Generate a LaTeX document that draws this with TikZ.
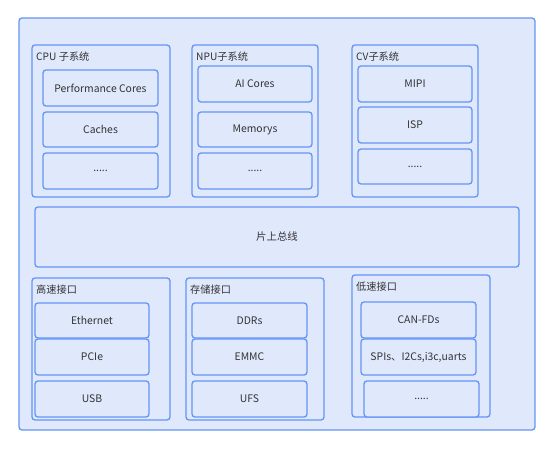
\documentclass[tikz,border=0pt]{standalone}
\usepackage{fontspec}
\setmainfont{Noto Sans CJK SC}
\usepackage{xcolor}
\definecolor{colFill}{HTML}{E0E8FC}
\definecolor{colLine}{HTML}{6495F5}
\definecolor{colText}{HTML}{333333}
\usetikzlibrary{positioning}

\begin{document}
\begin{tikzpicture}[x=1pt, y=-1pt,
		box/.style={draw=colLine, fill=colFill, line width=1.3pt, rounded corners=3pt, inner sep=0pt},
		item/.style={box, font=\fontsize{10.4}{12}\selectfont, text=colText},
		title/.style={anchor=west, inner sep=0pt, font=\fontsize{10.2}{12}\selectfont, text=colText}]
	\useasboundingbox (0,0) rectangle (554,449);
	\node[box, minimum width=516, minimum height=412] (soc) at (277,224) {};
	% subsystems
	\node[box, minimum width=138, minimum height=152] (cpu) at (101,121) {};
	\node[title] (cpuT) at (36,57) {CPU 子系统};
	\node[item, minimum width=115, minimum height=36] (perf) at (100.5,88) {Performance Cores};
	\node[item, minimum width=115, minimum height=35] (cache) at (100.5,129.5) {Caches};
	\node[item, minimum width=115, minimum height=36] (cpuMore) at (100.5,171) {.....};
	\node[box, minimum width=126, minimum height=152] (npu) at (255,121) {};
	\node[title] (npuT) at (196,57) {NPU子系统};
	\node[item, minimum width=114, minimum height=36] (ai) at (255,84) {AI Cores};
	\node[item, minimum width=114, minimum height=35] (mem) at (255,129.5) {Memorys};
	\node[item, minimum width=114, minimum height=36] (npuMore) at (255,171) {.....};
	\node[box, minimum width=126, minimum height=152] (cv) at (415,121) {};
	\node[title] (cvT) at (356,57) {CV子系统};
	\node[item, minimum width=114, minimum height=36] (mipi) at (415,84) {MIPI};
	\node[item, minimum width=114, minimum height=36] (isp) at (415,125) {ISP};
	\node[item, minimum width=114, minimum height=35] (cvMore) at (415,166.5) {.....};
	% bus
	\node[item, minimum width=484, minimum height=60] (bus) at (277,237) {片上总线};
	% interfaces
	\node[box, minimum width=138, minimum height=142] (hs) at (101,349) {};
	\node[title] (hsT) at (36,290) {高速接口};
	\node[item, minimum width=114, minimum height=35] (eth) at (92,320.5) {Ethernet};
	\node[item, minimum width=114, minimum height=36] (pcie) at (92,357) {PCIe};
	\node[item, minimum width=114, minimum height=36] (usb) at (92,399) {USB};
	\node[box, minimum width=138, minimum height=142] (st) at (255,349) {};
	\node[title] (stT) at (190,290) {存储接口};
	\node[item, minimum width=115, minimum height=35] (ddr) at (249.5,320.5) {DDRs};
	\node[item, minimum width=115, minimum height=36] (emmc) at (249.5,357) {EMMC};
	\node[item, minimum width=115, minimum height=36] (ufs) at (249.5,399) {UFS};
	\node[box, minimum width=138, minimum height=142] (ls) at (421,346) {};
	\node[title] (lsT) at (356,287) {低速接口};
	\node[item, minimum width=115, minimum height=36] (can) at (418.5,320) {CAN-FDs};
	\node[item, minimum width=115, minimum height=36] (spi) at (418.5,357) {SPIs、I2Cs,i3c,uarts};
	\node[item, minimum width=115, minimum height=36] (lsMore) at (421.5,399) {.....};
\end{tikzpicture}
\end{document}
